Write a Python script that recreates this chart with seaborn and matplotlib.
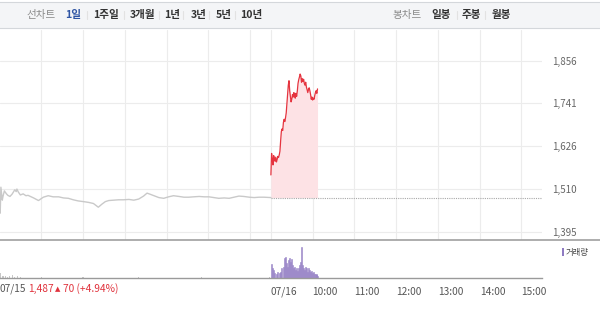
import numpy as np
import pandas as pd
import matplotlib
matplotlib.use("Agg")
import matplotlib.pyplot as plt
from matplotlib.patches import Rectangle
from matplotlib.lines import Line2D
import seaborn as sns

# ---------------- data ----------------
prev_close = 1487
y_ticks = [1395, 1510, 1626, 1741, 1856]
y_tick_labels = ["1,395", "1,510", "1,626", "1,741", "1,856"]

# 07/15 session: minutes after 09:00 and price
day1_minutes = [0, 1, 2, 4, 5, 7, 10, 12, 15, 18, 22, 24, 25, 27, 30, 34, 38, 41, 49, 56,
                63, 70, 77, 85, 92, 99, 106, 113, 121, 128, 135, 142, 147, 152, 157, 164,
                171, 178, 186, 193, 200, 207, 212, 215, 222, 229, 236, 243, 250, 258, 265,
                272, 279, 287, 294, 301, 308, 315, 323, 330, 337, 344, 351, 359, 366, 373,
                380, 390]
day1_prices = [1470, 1445, 1515, 1480, 1490, 1505, 1497, 1493, 1490, 1496, 1508, 1503, 1510,
               1502, 1494, 1497, 1492, 1493, 1486, 1479, 1488, 1492, 1489, 1489, 1486, 1485,
               1481, 1478, 1476, 1474, 1471, 1461, 1469, 1476, 1479, 1480, 1481, 1481, 1482,
               1480, 1483, 1491, 1499, 1497, 1492, 1487, 1485, 1489, 1492, 1490, 1488, 1488,
               1489, 1490, 1489, 1489, 1487, 1485, 1486, 1485, 1488, 1491, 1490, 1488, 1487,
               1488, 1488, 1487]

# 07/16 session: price per minute after 09:00
day2_prices = [1548, 1606, 1590, 1575, 1600, 1592, 1585, 1596, 1583, 1590, 1598, 1595, 1602,
               1612, 1640, 1665, 1672, 1668, 1690, 1698, 1692, 1702, 1715, 1740, 1765, 1790,
               1802, 1775, 1760, 1745, 1752, 1765, 1758, 1770, 1762, 1755, 1768, 1760, 1775,
               1795, 1805, 1812, 1820, 1815, 1798, 1808, 1800, 1806, 1795, 1790, 1798, 1785,
               1778, 1770, 1778, 1783, 1775, 1765, 1752, 1758, 1750, 1755, 1752, 1762, 1770,
               1775, 1768, 1780]

# volume (shares)
day1_vol_minutes = [0, 2, 4, 6, 9, 12, 15, 18, 22, 26, 30, 60, 120, 200, 290, 388]
day1_volumes = [3000, 4500, 2000, 1500, 2000, 1000, 1500, 2200, 1000, 1500, 1000, 600, 500,
                500, 500, 1000]
day2_vol_minutes = [0, 1.4, 3.4, 5, 7, 9, 11, 13, 15, 17, 18.9, 20.4, 21.8, 23.3, 24.7, 26,
                    27.6, 29, 30.5, 32, 33.4, 34.8, 36.3, 37.7, 39, 40.6, 42, 43.5, 45, 46.5,
                    48, 49.3, 50.8, 52, 53.7, 55, 56.7, 58, 59.5, 61, 62.5, 64, 65.4, 66.8]
day2_volumes = [13300, 9300, 7700, 4300, 3300, 5300, 4300, 6000, 9300, 11000, 19300, 21000,
                14300, 11000, 17700, 20000, 16000, 18700, 12700, 9300, 11000, 7700, 9300, 6700,
                9300, 12700, 16000, 31000, 12700, 9300, 7700, 11000, 9300, 6000, 10000, 7700,
                5300, 6700, 4300, 5300, 3300, 4000, 2700, 2000]

x_tick_labels = ["07/16", "10:00", "11:00", "12:00", "13:00", "14:00", "15:00"]

# ---------------- helpers ----------------
W, H = 600, 311
DAY2 = 6.5  # hours offset of 07/16 09:00 on the continuous axis

d1 = pd.DataFrame({"t": np.array(day1_minutes) / 60.0, "price": day1_prices})
d2 = pd.DataFrame({"t": DAY2 + np.arange(len(day2_prices)) / 60.0, "price": day2_prices})

sns.set_style("white")
plt.rcParams["font.family"] = ["Noto Sans CJK KR", "DejaVu Sans"]

fig = plt.figure(figsize=(6, 3.11), dpi=100)

def fy(py):
    return 1 - py / H

# header bar
fig.patches.append(Rectangle((-0.01, fy(28)), 1.02, 26 / H, transform=fig.transFigure,
                             facecolor="#f4f5f7", edgecolor="#d4d7db", lw=0.8, zorder=0))
hy = fy(15)
items = [("선차트", 26.5, "#8a8a8a", "normal"), ("1일", 65, "#2f55a4", "bold"),
         ("1주일", 93, "#333333", "bold"), ("3개월", 130, "#333333", "bold"),
         ("1년", 164.5, "#333333", "bold"), ("3년", 190.5, "#333333", "bold"),
         ("5년", 216, "#333333", "bold"), ("10년", 240.5, "#333333", "bold"),
         ("봉차트", 392, "#8a8a8a", "normal"), ("일봉", 431, "#333333", "bold"),
         ("주봉", 462, "#333333", "bold"), ("월봉", 492, "#333333", "bold")]
for txt, x, c, w in items:
    fig.text(x / W, hy, txt, color=c, fontsize=7.6, fontweight=w, ha="left", va="center")
for sx in [87, 124, 159, 183, 209, 235, 457, 485]:
    fig.lines.append(Line2D([sx / W, sx / W], [fy(11), fy(19)], transform=fig.transFigure,
                            color="#e2e2e2", lw=0.8))

# main price axes
x0_h = 0.012
x1_h = 13.0
ax = fig.add_axes([0, fy(240), 542.3 / W, 210 / H])
grid_x = [1, 2, 3, 4, 5, 6, 6.5, 7.5, 8.5, 9.5, 10.5, 11.5, 12.5]
ax.set_xlim(x0_h, x1_h)
ax.set_ylim(1372.6, 1938.8)
ax.set_xticks(grid_x)
ax.set_xticklabels([])
ax.set_yticks(y_ticks)
ax.set_yticklabels(y_tick_labels)
ax.yaxis.tick_right()
ax.tick_params(axis="y", length=0, pad=7, labelsize=7, colors="#666666")
ax.tick_params(axis="x", length=0)
ax.grid(True, color="#ececec", lw=0.8)
for s in ax.spines.values():
    s.set_visible(False)

ax.fill_between(d2["t"], prev_close, d2["price"], color="#fde2e5", lw=0, zorder=1)
ax.hlines(prev_close, DAY2, x1_h, colors="#a8a8a8", lw=0.8, linestyles=(0, (1, 1)), zorder=2)
sns.lineplot(data=d1, x="t", y="price", ax=ax, color="#c9c9c9", lw=1.0, zorder=3)
sns.lineplot(data=d2, x="t", y="price", ax=ax, color="#e5343f", lw=0.9, zorder=4)
ax.set_xlabel("")
ax.set_ylabel("")

# volume axes
vax = fig.add_axes([0, fy(277.5), 542.3 / W, 37.5 / H])
vax.set_xlim(x0_h, x1_h)
vax.set_ylim(0, 37500)
vax.bar(np.array(day1_vol_minutes) / 60.0, day1_volumes, width=0.025, color="#c8c8c8", lw=0)
vax.bar(DAY2 + np.array(day2_vol_minutes) / 60.0, day2_volumes, width=0.026,
        color="#9a86c8", edgecolor="#9a86c8", lw=0.4, align="edge")
vax.set_yticks([])
vax.set_xticks([6.5, 7.5, 8.5, 9.5, 10.5, 11.5, 12.5])
vax.set_xticklabels(x_tick_labels, ha="left")
vax.tick_params(axis="x", direction="out", length=4.5, width=0.8, color="#666666",
                labelsize=7.3, labelcolor="#555555", pad=2)
for k in ["top", "left", "right"]:
    vax.spines[k].set_visible(False)
vax.spines["bottom"].set_color("#9a9a9a")
vax.spines["bottom"].set_linewidth(1.0)

# separator between price and volume panels
fig.lines.append(Line2D([0, 1], [fy(240), fy(240)], transform=fig.transFigure,
                        color="#a0a0a0", lw=1.2))

# volume legend
fig.patches.append(Rectangle((562 / W, fy(256)), 2 / W, 8 / H, transform=fig.transFigure,
                             facecolor="#8f7bc2", lw=0))
fig.text(566 / W, fy(252), "거래량", fontsize=6, color="#444444", ha="left", va="center")

# bottom-left info
red = "#e0323c"
fig.text(0, fy(289), "07/15", fontsize=7.3, color="#555555", ha="left", va="center")
fig.text(28 / W, fy(289), "1,487", fontsize=7.3, color=red, ha="left", va="center")
fig.text(55 / W, fy(289.5), "▲", fontsize=5, color=red, ha="left", va="center",
         family=["DejaVu Sans"])
fig.text(63 / W, fy(289), "70 (+4.94%)", fontsize=7.3, color=red, ha="left", va="center")

fig.savefig("out.png", dpi=100)
